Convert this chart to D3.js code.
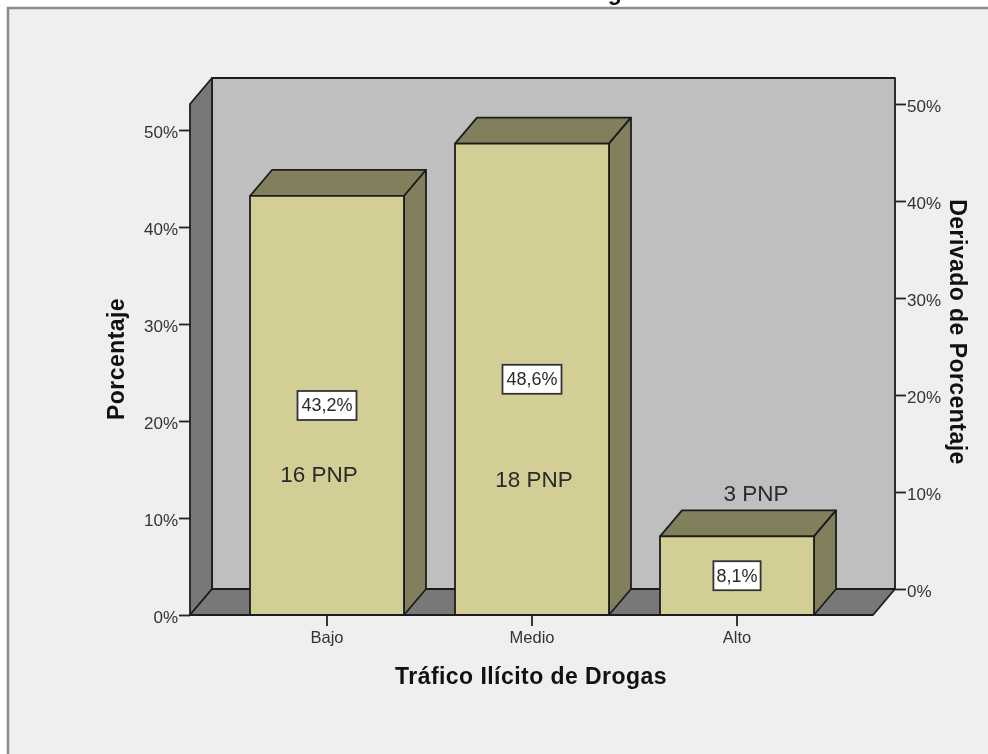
<!DOCTYPE html>
<html>
<head>
<meta charset="utf-8">
<script src="https://cdn.jsdelivr.net/npm/d3@7"></script>
<style>
    html, body { margin: 0; padding: 0; background: #fff; overflow: hidden; }
    svg { display: block; filter: blur(0.55px); }
    text { font-family: "Liberation Sans", Arial, sans-serif; fill: #2a2a2a; }
    .title { font-weight: bold; fill: #111; font-size: 23px; letter-spacing: 0.45px; }
    .axis text { font-size: 17px; fill: #333; }
    .axis path, .axis line { stroke: #222; stroke-width: 1.8; }
</style>
</head>
<body>
<script>
let w = 988;
let h = 754;

let categories = ["Bajo", "Medio", "Alto"];
let percents = [43.2, 48.6, 8.1];
let percentLabels = ["43,2%", "48,6%", "8,1%"];
let countLabels = ["16 PNP", "18 PNP", "3 PNP"];
let countLabelLevels = [14.5, 14.0, 12.6];
let tickValues = [0, 10, 20, 30, 40, 50];

// 3d look: the back wall is the front plane moved by this much
let depthX = 22;
let depthY = 26;

let plotLeft = 190;
let plotRight = 873;
let plotBottom = 615;
let plotTop = 104;

let svg = d3.select("body").append("svg").attr("width", w).attr("height", h);

let xScale = d3.scaleBand()
    .domain(categories)
    .range([224.5, 839.5])
    .paddingInner(51 / 205)
    .paddingOuter(25.5 / 205);
let yScale = d3.scaleLinear().domain([0, 50]).range([plotBottom, 130]);
let yRight = d3.scaleLinear().domain([0, 50]).range([plotBottom - depthY, 130 - depthY]);

let pct = d => d + "%";
let poly = pts => pts.map(p => p.join(",")).join(" ");

// outer panel, open on the right and at the bottom
svg.append("rect").attr("x", 8).attr("y", 8).attr("width", w).attr("height", h)
    .attr("fill", "#efefef");
svg.append("path").attr("d", `M8 ${h} V8 H${w}`)
    .attr("fill", "none").attr("stroke", "#8c8c8c").attr("stroke-width", 2.5);

// what is left of the cut off title
svg.append("text").attr("class", "title").attr("x", 615).attr("y", 0)
    .attr("text-anchor", "middle").text("g");

// walls and floor
function face(points, fill) {
    return svg.append("polygon")
        .attr("points", poly(points))
        .attr("fill", fill)
        .attr("stroke", "#1c1c1c")
        .attr("stroke-width", 1.8)
        .attr("stroke-linejoin", "round");
}
face([[plotLeft + depthX, plotTop - depthY], [plotRight + depthX, plotTop - depthY],
      [plotRight + depthX, plotBottom - depthY], [plotLeft + depthX, plotBottom - depthY]], "#bfbfbf");
face([[plotLeft, plotBottom], [plotLeft, plotTop], [plotLeft + depthX, plotTop - depthY],
      [plotLeft + depthX, plotBottom - depthY]], "#787878");
face([[plotLeft, plotBottom], [plotLeft + depthX, plotBottom - depthY],
      [plotRight + depthX, plotBottom - depthY], [plotRight, plotBottom]], "#787878");

// bars
categories.forEach(function(c, i) {
    let x0 = xScale(c);
    let x1 = x0 + xScale.bandwidth();
    let yTop = yScale(percents[i]);
    face([[x0, yTop], [x0 + depthX, yTop - depthY], [x1 + depthX, yTop - depthY], [x1, yTop]], "#82805c");
    face([[x1, yTop], [x1 + depthX, yTop - depthY], [x1 + depthX, plotBottom - depthY], [x1, plotBottom]], "#82805c");
    face([[x0, yTop], [x1, yTop], [x1, plotBottom], [x0, plotBottom]], "#d2ce96");
});

// axes
let leftAxis = svg.append("g").attr("class", "axis")
    .attr("transform", `translate(${plotLeft},0)`)
    .call(d3.axisLeft(yScale).tickValues(tickValues).tickFormat(pct).tickSize(11).tickSizeOuter(0).tickPadding(1));
leftAxis.select(".domain").remove();
leftAxis.selectAll("text").attr("dy", "0.44em");

let rightAxis = svg.append("g").attr("class", "axis")
    .attr("transform", `translate(${plotRight + depthX},0)`)
    .call(d3.axisRight(yRight).tickValues(tickValues).tickFormat(pct).tickSize(11).tickSizeOuter(0).tickPadding(1));
rightAxis.select(".domain").remove();
rightAxis.selectAll("text").attr("dy", "0.44em");

let bottomAxis = svg.append("g").attr("class", "axis")
    .attr("transform", `translate(0,${plotBottom})`)
    .call(d3.axisBottom(xScale).tickSize(11).tickSizeOuter(0).tickPadding(5));
bottomAxis.select(".domain").remove();
bottomAxis.selectAll("text").style("font-size", "16.5px");
svg.append("line").attr("x1", plotLeft).attr("x2", plotRight)
    .attr("y1", plotBottom).attr("y2", plotBottom)
    .attr("stroke", "#1c1c1c").attr("stroke-width", 2);

// axis titles
svg.append("text").attr("class", "title")
    .attr("transform", "translate(531,684)")
    .attr("text-anchor", "middle").text("Tráfico Ilícito de Drogas");
svg.append("text").attr("class", "title")
    .attr("transform", "translate(124,359) rotate(-90)")
    .attr("text-anchor", "middle").text("Porcentaje");
svg.append("text").attr("class", "title")
    .attr("transform", "translate(950,332) rotate(90)")
    .attr("text-anchor", "middle").text("Derivado de Porcentaje");

// value boxes
categories.forEach(function(c, i) {
    let cx = xScale(c) + xScale.bandwidth() / 2;
    let cy = yScale(percents[i] / 2);
    let boxW = percentLabels[i].length * 11.8;
    svg.append("rect")
        .attr("x", cx - boxW / 2).attr("y", cy - 14.5)
        .attr("width", boxW).attr("height", 29)
        .attr("fill", "#fff").attr("stroke", "#333").attr("stroke-width", 1.8);
    svg.append("text").attr("x", cx).attr("y", cy + 6)
        .attr("text-anchor", "middle").style("font-size", "18px")
        .text(percentLabels[i]);
});

// PNP counts
categories.forEach(function(c, i) {
    let cx = xScale(c) + xScale.bandwidth() / 2;
    svg.append("text")
        .attr("x", i == 2 ? cx + 19 : cx + (i == 1 ? 2 : -8))
        .attr("y", yScale(countLabelLevels[i]) + 8)
        .attr("text-anchor", "middle").style("font-size", "22.5px")
        .text(countLabels[i]);
});
</script>
</body>
</html>
